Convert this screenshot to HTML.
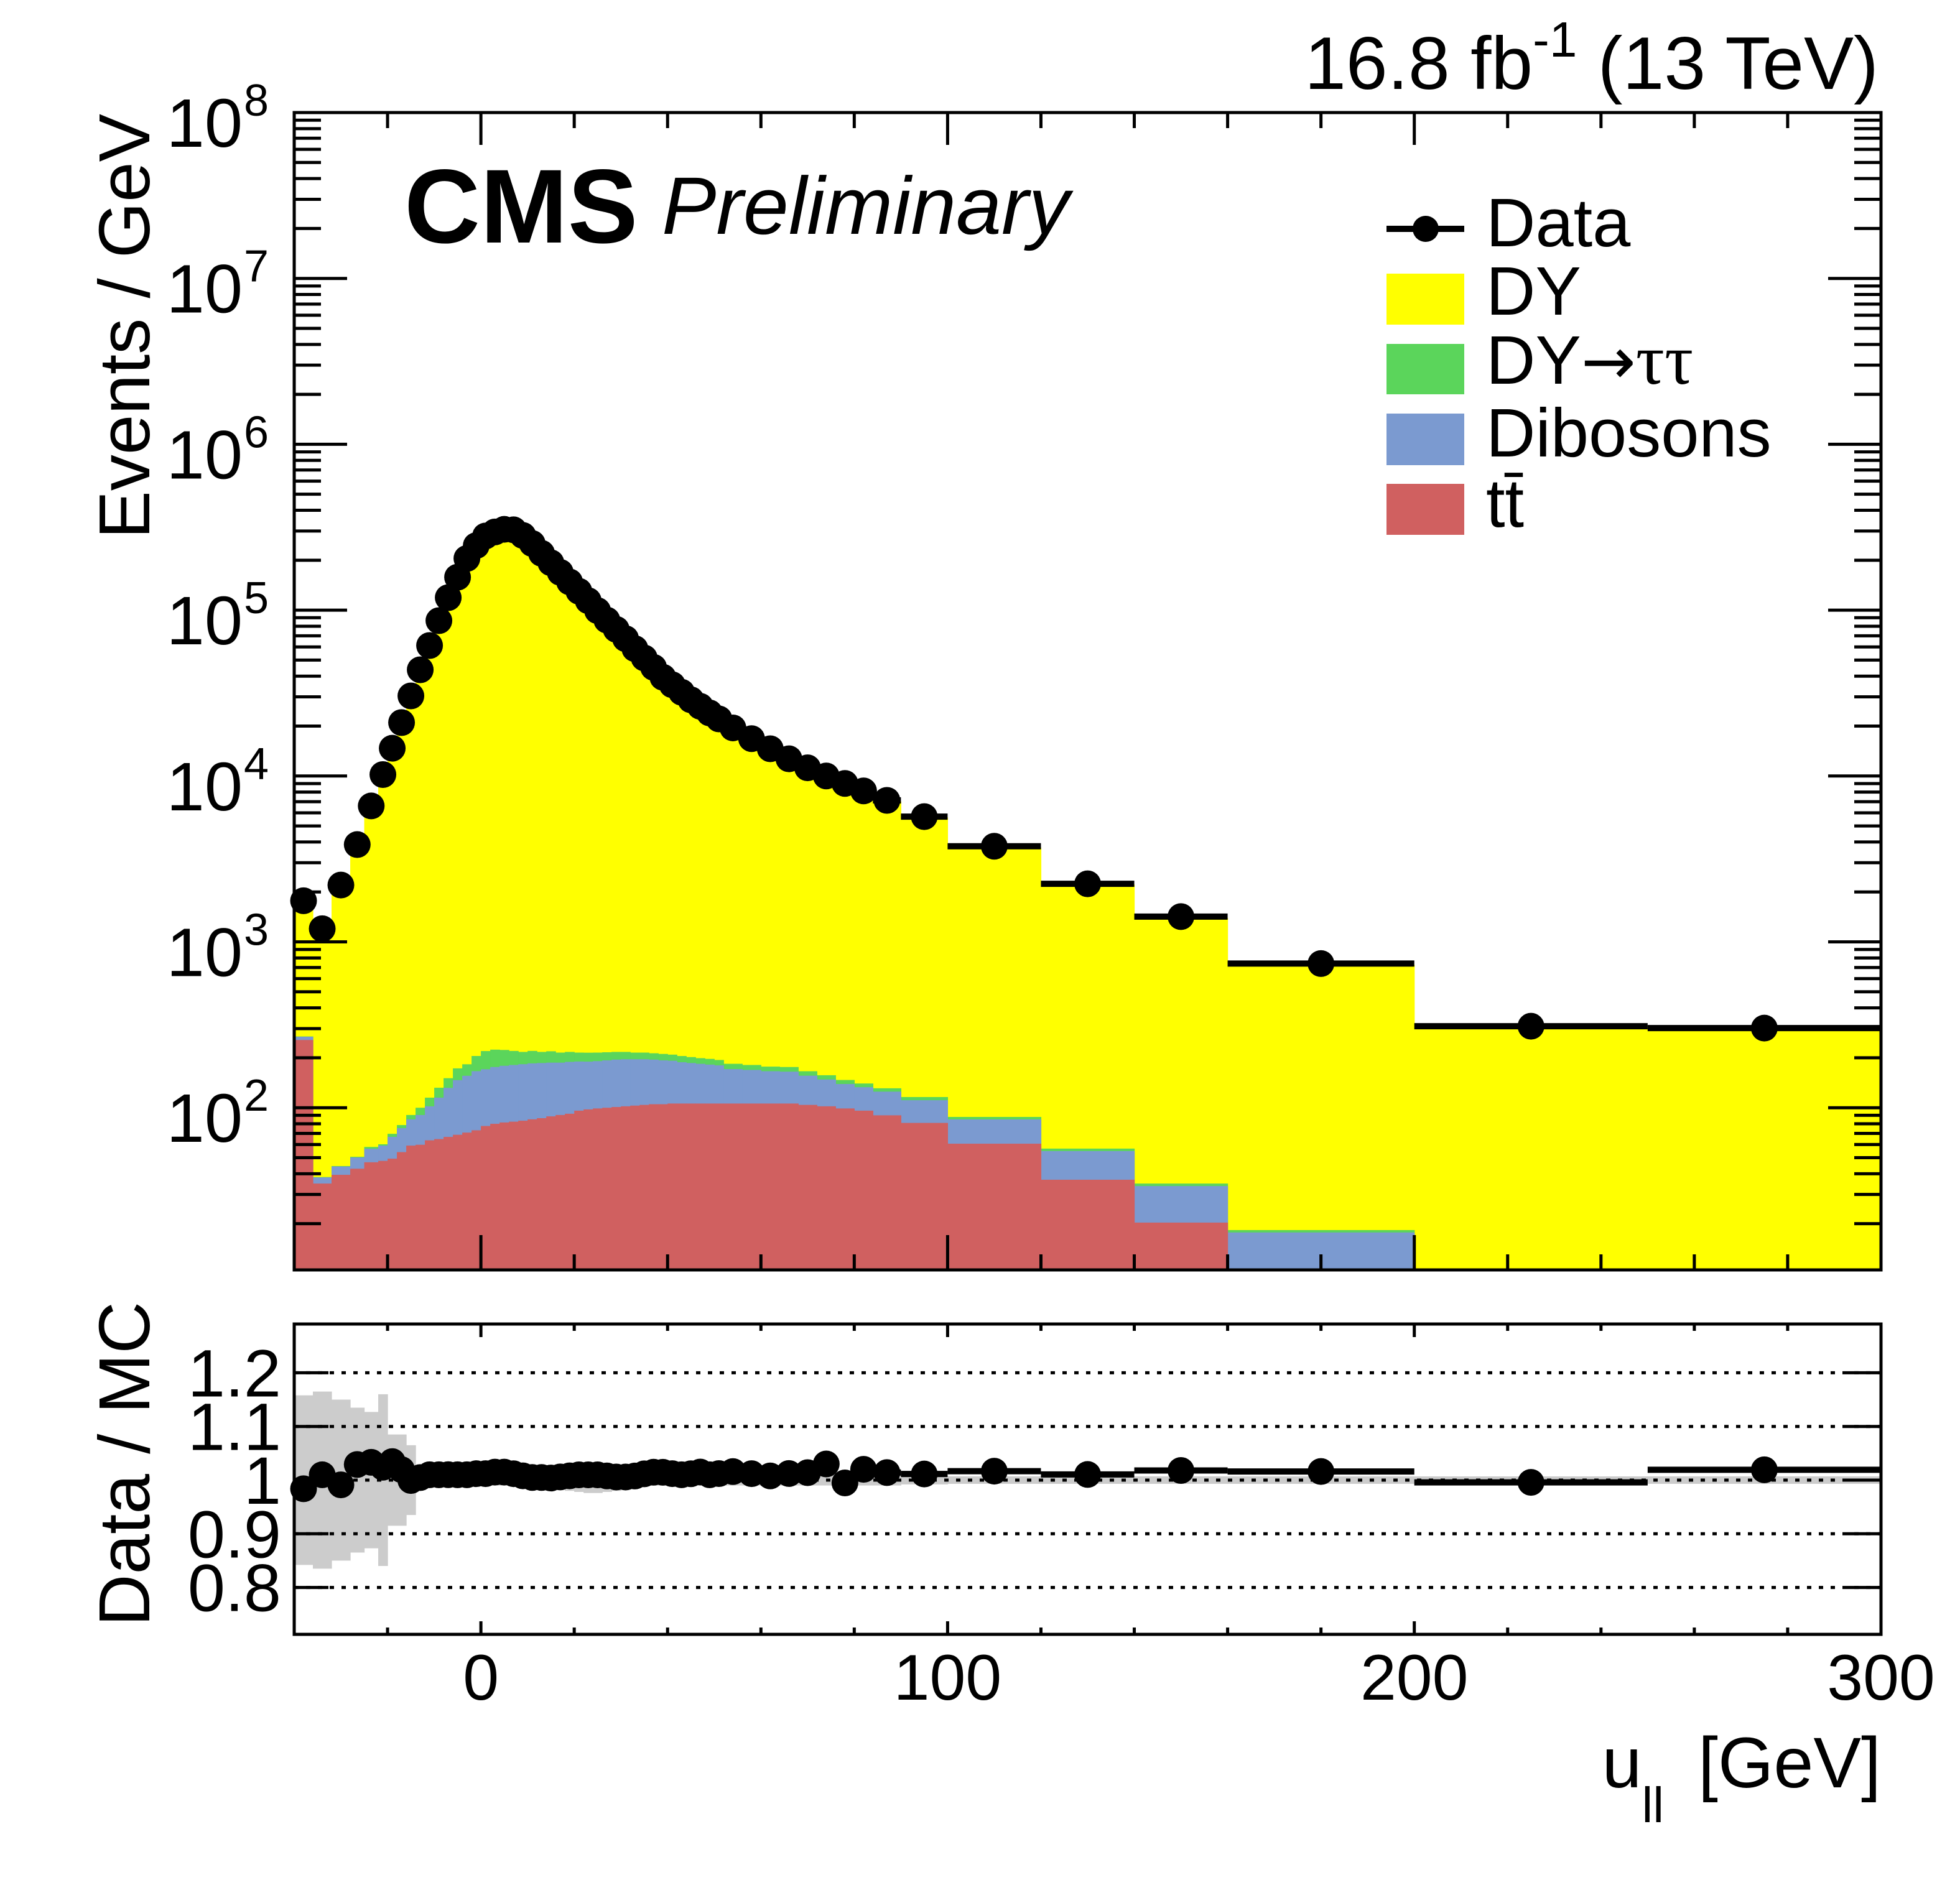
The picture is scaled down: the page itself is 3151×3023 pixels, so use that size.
<!DOCTYPE html>
<html><head><meta charset="utf-8"><title>CMS u_parallel</title>
<style>
html,body{margin:0;padding:0;background:#fff;}
svg{display:block;font-family:"Liberation Sans",Arial,sans-serif;}
</style></head>
<body>
<svg id="chart" width="3151" height="3023" viewBox="0 0 3151 3023" xmlns="http://www.w3.org/2000/svg">
<rect width="3151" height="3023" fill="#fff"/>
<g id="main-marks"></g>
<g id="ratio-marks"></g>
<g id="axes"></g>
<text x="3020" y="143" font-size="120" text-anchor="end">16.8 fb<tspan dy="-52" font-size="80">-1</tspan><tspan dy="52"> (13 TeV)</tspan></text>
<text x="650" y="390" font-size="169" font-weight="bold">CMS</text>
<text x="1064" y="376" font-size="131" font-style="italic">Preliminary</text>
<text transform="translate(240,183) rotate(-90)" font-size="116" text-anchor="end">Events / GeV</text>
<text transform="translate(240,2093) rotate(-90)" font-size="116" text-anchor="end">Data / MC</text>
<text x="3024" y="2874" font-size="115" text-anchor="end">u<tspan dy="56" font-size="80">ll</tspan><tspan dy="-56" dx="55">[GeV]</tspan></text>
<g>
  <g>
    <line x1="2229" y1="368" x2="2354" y2="368" stroke="#000" stroke-width="10"/>
    <circle cx="2292" cy="368" r="21" fill="#000"/>
    <text x="2389" y="396" font-size="110">Data</text>
  </g>
  <g>
    <rect x="2229" y="440" width="125" height="82" fill="#ffff00"/>
    <text x="2389" y="506" font-size="110">DY</text>
  </g>
  <g>
    <rect x="2229" y="553" width="125" height="81" fill="#5bd55b"/>
    <text x="2389" y="617" font-size="110">DY<tspan font-family="'DejaVu Sans',sans-serif" font-size="105">→</tspan><tspan font-family="'Liberation Serif',serif" font-size="115">ττ</tspan></text>
  </g>
  <g>
    <rect x="2229" y="665" width="125" height="83" fill="#7b9ad0"/>
    <text x="2389" y="734" font-size="110">Dibosons</text>
  </g>
  <g>
    <rect x="2229" y="778" width="125" height="82" fill="#d06060"/>
    <text x="2389" y="847" font-size="110">tt̄</text>
  </g>
</g>
</svg>
<script>
// ---- data (per-GeV values) ----
const binEdges = [-40,-36,-32,-28,-25,-22,-20,-18,-16,-14,-12,-10,-8,-6,-4,-2,0,2,4,6,8,10,12,14,16,18,20,22,24,26,28,30,32,34,36,38,40,42,44,46,48,50,52,56,60,64,68,72,76,80,84,90,100,120,140,160,200,250,300];
const dataValues = [1770,1200,2200,3860,6600,10200,14700,21000,30400,43700,61200,86400,119000,158000,205000,245000,280000,296000,307000,305000,282000,252000,220000,193000,169000,148000,130000,114000,99300,87100,76600,67300,58600,51500,45200,39400,35500,32000,28800,26300,24000,22100,19500,16800,14600,12700,11200,10000,9020,8130,7130,5690,3770,2240,1420,740,310,302];
const dyValues = [1530,1150,2175,3700,6330,9900,14140,20520,30330,43390,60480,85410,117660,156270,202800,241900,276470,291420,302250,301180,279550,250540,218700,192030,167790,146620,128510,112670,98115,86210,75940,66700,57940,50690,44330,38620,34870,31480,28260,25710,23565,21640,19010,16420,14310,12370,10880,9550,8920,7830,6900,5510,3620,2160,1360,710,304,290];
const dyTauTauValues = [1,0.2,0.3,0.5,1.4,1.1,2.9,3.3,5.3,9.6,13,17,19,26,27,39,49,48,44,39,34,35,31,32,28,28,25,25,24,23,22,21,19,19,18,18,17,17,16,15,15,14,13,12,11,11,10,9,8,7,6,5,3,1.9,1.2,0.6,0.3,0.3];
const dibosonValues = [12,3.1,4.8,7.2,9.7,11.3,17.4,21.3,26,30.6,38.4,50.3,65,78,85,93,93,96,97.5,98.6,99.5,100,99.5,98.3,96.6,97,94,92,92,93,94,94,93,92,90,88,86,82,80,78,76,74,65,63,60,59,52,46,40,37,35,30,24.3,18,13.4,12.7,5,4];
const ttbarValues = [256,34.9,39.4,42.9,46.9,47.8,49.3,54,59.1,59.8,63.6,64.7,66.7,68.7,70.8,73.1,77.6,80,81.5,82.4,83.5,85.1,86.5,88.7,90.4,92,96,97.7,99,100,101,102,103,104,105,105,106,106,106,106,106,106,106,106,106,106,104,102,99,96,90,81,60.7,36.8,20.3,5,2,2];
const relUncertainty = [0.158,0.165,0.15,0.135,0.127,0.16,0.085,0.085,0.065,0.012,0.01,0.01,0.01,0.01,0.01,0.01,0.01,0.01,0.01,0.01,0.01,0.01,0.01,0.012,0.015,0.02,0.022,0.024,0.024,0.022,0.02,0.018,0.012,0.01,0.01,0.01,0.01,0.01,0.01,0.01,0.01,0.01,0.01,0.01,0.01,0.01,0.01,0.01,0.01,0.01,0.01,0.008,0.007,0.007,0.007,0.007,0.007,0.007];
const xTicks = [0,100,200,300];
const yDecades = [2,3,4,5,6,7,8];
const ratioTicks = [0.8,0.9,1.0,1.1,1.2];
const ratioTickLabels = ["0.8","0.9","1","1.1","1.2"];

// ---- geometry ----
const X0=473, X1=3024, XMIN=-40, XMAX=300;
const MT=181, MB=2042, LOGMAX=8, DEC=266.7;
const RT=2129, RB=2628, RMID=2380, RUNIT=863;
const NS="http://www.w3.org/2000/svg";
function xs(g){return X0+(g-XMIN)*(X1-X0)/(XMAX-XMIN);}
function ys(v){if(v<=0) return MB; const y=MT+(LOGMAX-Math.log10(v))*DEC; return Math.max(MT,Math.min(MB,y));}
function yr(r){const y=RMID-(r-1)*RUNIT; return Math.max(RT,Math.min(RB,y));}
function mk(tag,attrs,parent){const e=document.createElementNS(NS,tag);for(const k in attrs)e.setAttribute(k,attrs[k]);parent.appendChild(e);return e;}

const main=document.getElementById('main-marks');
const ratio=document.getElementById('ratio-marks');
const axes=document.getElementById('axes');
const n=dataValues.length;

// stacked histogram
const layers=[
 {name:'dy',color:'#ffff00',fn:i=>dyValues[i]+dyTauTauValues[i]+dibosonValues[i]+ttbarValues[i]},
 {name:'dytautau',color:'#5bd55b',fn:i=>dyTauTauValues[i]+dibosonValues[i]+ttbarValues[i]},
 {name:'dibosons',color:'#7b9ad0',fn:i=>dibosonValues[i]+ttbarValues[i]},
 {name:'ttbar',color:'#d06060',fn:i=>ttbarValues[i]}
];
layers.forEach(L=>{
  const g=mk('g',{},main);
  
  
  for(let i=0;i<n;i++){
    const xa=xs(binEdges[i]), xb=xs(binEdges[i+1]), yt=ys(L.fn(i));
    if(yt>=MB) continue;
    const r=mk('rect',{x:xa,y:yt,width:xb-xa+0.6,height:MB-yt,fill:L.color},g);
    
    
  }
});

// data points
const dg=mk('g',{},main);


for(let i=0;i<n;i++){
  const xa=xs(binEdges[i]), xb=xs(binEdges[i+1]), xc=(xa+xb)/2, y=ys(dataValues[i]);
  mk('line',{x1:xa,y1:y,x2:xb,y2:y,stroke:'#000','stroke-width':10},dg);
  const c=mk('circle',{cx:xc,cy:y,r:21.5,fill:'#000'},dg);
  
  
}

// ratio panel: band, grid, points
const bg=mk('g',{},ratio);


for(let i=0;i<n;i++){
  const xa=xs(binEdges[i]), xb=xs(binEdges[i+1]);
  const yt=yr(1+relUncertainty[i]), yb=yr(1-relUncertainty[i]);
  mk('rect',{x:xa,y:yt,width:xb-xa+0.6,height:yb-yt,fill:'#cccccc'},bg);
}
ratioTicks.forEach(t=>{
  const l=mk('line',{x1:X0,y1:yr(t),x2:X1,y2:yr(t),stroke:'#000','stroke-width':5,'stroke-dasharray':'7 12'},ratio);
  
  
});
const rg=mk('g',{},ratio);


for(let i=0;i<n;i++){
  const mc=layers[0].fn(i);
  const r=dataValues[i]/mc;
  const xa=xs(binEdges[i]), xb=xs(binEdges[i+1]), xc=(xa+xb)/2, y=yr(r);
  mk('line',{x1:xa,y1:y,x2:xb,y2:y,stroke:'#000','stroke-width':10},rg);
  const c=mk('circle',{cx:xc,cy:y,r:21.5,fill:'#000'},rg);
  
  
}

// frames
[[MT,MB],[RT,RB]].forEach(([t,b])=>{
  const f=mk('rect',{x:X0,y:t,width:X1-X0,height:b-t,fill:'none',stroke:'#000','stroke-width':5},axes);
  
  
});
function tick(x1,y1,x2,y2){mk('line',{x1,y1,x2,y2,stroke:'#000','stroke-width':5},axes);}
// x ticks
for(let g=-40; g<=300; g+=20){
  const x=xs(g), major=(g%100===0);
  tick(x,MB,x,MB-(major?56:25)); tick(x,MT,x,MT+(major?52:25));
  tick(x,RB,x,RB-(major?21:11)); tick(x,RT,x,RT+(major?21:11));
}
xTicks.forEach(t=>{
  const tx=mk('text',{x:xs(t),y:2733,'font-size':104,'text-anchor':'middle'},axes);
  tx.textContent=String(t);
  
  
});
// y ticks (log)
const logMin=LOGMAX-(MB-MT)/DEC;
for(let d=1; d<=8; d++){
  for(let m=1;m<=9;m++){
    const v=m*Math.pow(10,d); const lv=Math.log10(v);
    if(lv<logMin||lv>LOGMAX+1e-9) continue;
    const y=MT+(LOGMAX-lv)*DEC, L=(m===1)?85:43;
    tick(X0,y,X0+L,y); tick(X1,y,X1-L,y);
  }
}
yDecades.forEach(d=>{
  const y=MT+(LOGMAX-d)*DEC;
  const tx=mk('text',{x:390,y:y+55,'font-size':110,'text-anchor':'end'},axes);
  tx.textContent='10';
  
  
  const sp=mk('text',{x:392,y:y+5,'font-size':72},axes);
  sp.textContent=String(d);
});
// ratio y ticks
ratioTicks.forEach((t,i)=>{
  const y=yr(t);
  tick(X0,y,X0+55,y); tick(X1,y,X1-55,y);
  const tx=mk('text',{x:452,y:y+38,'font-size':108,'text-anchor':'end'},axes);
  tx.textContent=ratioTickLabels[i];
  
  
});
</script>
</body></html>
